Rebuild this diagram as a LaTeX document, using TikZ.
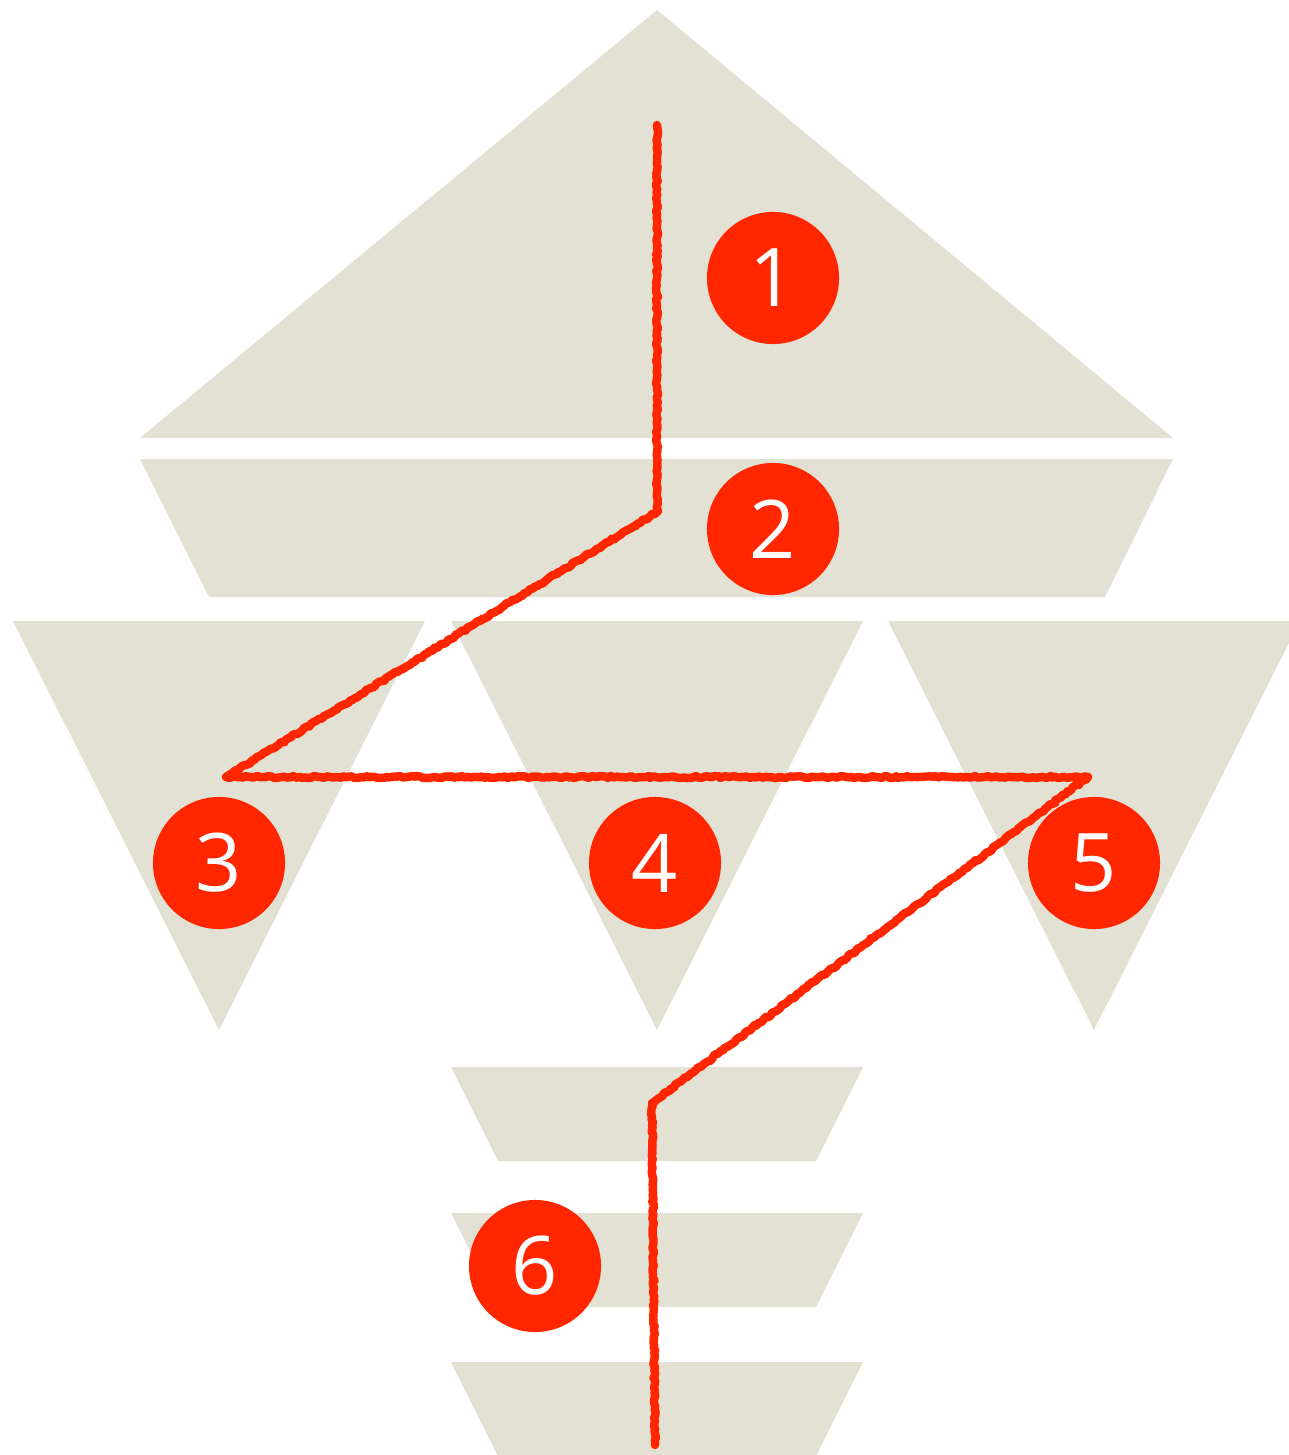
\documentclass[tikz,border=0pt]{standalone}
\usepackage{fontspec}
\newfontfamily\badgefont{Open Sans}
\usetikzlibrary{decorations.pathmorphing}
\definecolor{sand}{RGB}{226,225,211}
\definecolor{signal}{RGB}{255,38,0}

\tikzset{
  chalk/.style={signal,line width=2.4pt,line join=round,line cap=round,
    decorate,decoration={random steps,segment length=0.8pt,amplitude=0.3pt}},
  badge/.style={circle,fill=signal,text=white,minimum size=1.32cm,inner sep=0pt,
    font=\badgefont\fontsize{23}{23}\selectfont}
}

\begin{document}
\begin{tikzpicture}[x=0.01cm,y=-0.01cm]
        \useasboundingbox (0,0) rectangle (1288,1455);
        % roof and band
        \fill[sand] (657,10) -- (1173,438) -- (140,438) -- cycle;
        \fill[sand] (140,459) -- (1173,459) -- (1105,597) -- (209,597) -- cycle;
        % three funnels
        \foreach \x in {13,451,888}
          \fill[sand] (\x,621) -- ++(412,0) -- ++(-206,409) -- cycle;
        % stacked plates
        \foreach \y in {1067,1213,1362}
          \fill[sand] (451,\y) -- ++(412,0) -- ++(-47,94) -- ++(-318,0) -- cycle;
        % the route
        \coordinate (start) at (657,125);
        \coordinate (bend) at (657,512);
        \coordinate (west) at (226,777);
        \coordinate (east) at (1088,777);
        \coordinate (kink) at (652,1103);
        \coordinate (foot) at (655,1445);
        \draw[chalk] (start) -- (bend) -- (west) -- (east) -- (kink) -- (foot);
        % numbered stops
        \node[badge] (n1) at (773,278) {1};
        \node[badge] (n2) at (773,529) {2};
        \node[badge] (n3) at (219,863) {3};
        \node[badge] (n4) at (655,863) {4};
        \node[badge] (n5) at (1094,863) {5};
        \node[badge] (n6) at (535,1266) {6};
      \end{tikzpicture}
\end{document}
